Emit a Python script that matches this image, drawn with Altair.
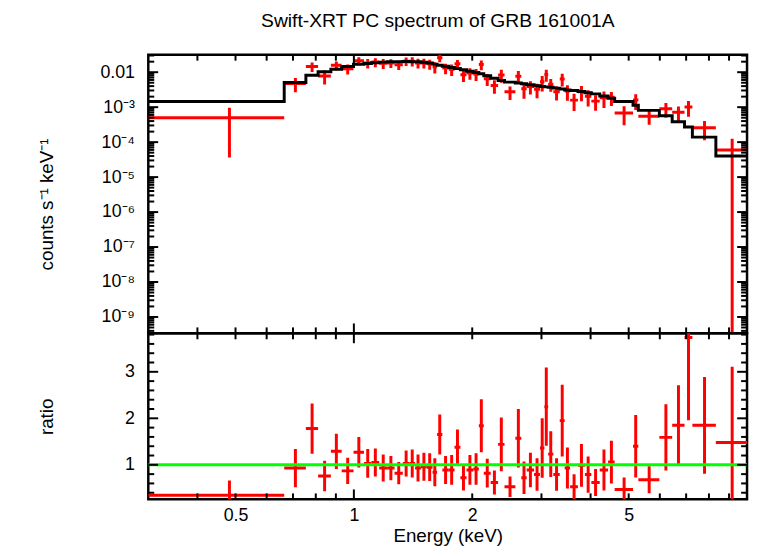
import altair as alt
import pandas as pd

# ---- data ----
# bin edges (keV)
edges = [0.30, 0.665, 0.755, 0.811, 0.874, 0.931, 0.998, 1.061, 1.108, 1.160,
         1.215, 1.269, 1.332, 1.384, 1.431, 1.481, 1.533, 1.585, 1.628, 1.679,
         1.743, 1.803, 1.866, 1.934, 2.012, 2.079, 2.140, 2.228, 2.327, 2.416,
         2.575, 2.666, 2.751, 2.873, 2.974, 3.052, 3.120, 3.216, 3.339, 3.437,
         3.548, 3.715, 3.869, 4.018, 4.220, 4.432, 4.606, 5.129, 5.291, 5.984,
         6.451, 6.934, 7.261, 8.331, 10.0]

# folded model per bin (counts s^-1 keV^-1)
model = [1.45e-3, 5.1e-3, 8.2e-3, 0.0103, 0.0122, 0.0145, 0.0168, 0.0178, 0.0186, 0.0194,
         0.0198, 0.0200, 0.0201, 0.0200, 0.0198, 0.0192, 0.0182, 0.0170, 0.0158, 0.0147,
         0.0137, 0.0127, 0.0117, 0.0107, 0.0098, 0.0090, 0.0079, 0.0067, 0.0058, 0.0052,
         0.0049, 0.0047, 0.0044, 0.0041, 0.0039, 0.0038, 0.0037, 0.0035, 0.0033, 0.0031,
         0.0030, 0.0028, 0.0026, 0.0024, 0.0021, 0.0018, 0.00145, 0.00114, 0.00081, 0.00057,
         0.000385, 0.000272, 0.000139, 0.000040]

# data / model ratio per bin
ratio = [0.345, 0.93, 1.78, 0.76, 1.29, 0.87, 1.27, 1.03, 1.05, 0.93,
         0.93, 0.82, 1.03, 1.03, 0.93, 0.96, 0.95, 0.84, 1.65, 0.89,
         0.89, 1.38, 0.72, 0.89, 0.91, 1.84, 0.82, 0.62, 1.44, 0.53,
         1.57, 0.72, 0.89, 0.79, 1.36, 2.25, 1.23, 0.79, 1.95, 0.93,
         0.53, 0.99, 0.79, 0.62, 0.89, 1.06, 0.47, 1.40, 0.68, 1.59,
         1.85, 3.74, 1.85, 1.48]

ratio_err = [0.32, 0.41, 0.54, 0.33, 0.38, 0.28, 0.33, 0.31, 0.30, 0.29,
             0.26, 0.24, 0.28, 0.30, 0.29, 0.30, 0.30, 0.30, 0.43, 0.30,
             0.32, 0.38, 0.27, 0.32, 0.34, 0.57, 0.31, 0.26, 0.58, 0.22,
             0.63, 0.35, 0.37, 0.35, 0.64, 0.84, 0.49, 0.35, 0.77, 0.44,
             0.27, 0.46, 0.39, 0.29, 0.44, 0.46, 0.26, 0.67, 0.29, 0.71,
             0.86, 1.78, 1.04, 1.63]

x_major_labels = [0.5, 1, 2, 5]
x_major_ticks = [1]
x_minor_ticks = [0.4, 0.5, 0.6, 0.7, 0.8, 0.9, 2, 3, 4, 5, 6, 7, 8, 9]
y_top_labels = {-2: "0.01", -3: "10⁻³", -4: "10⁻⁴", -5: "10⁻⁵",
                -6: "10⁻⁶", -7: "10⁻⁷", -8: "10⁻⁸", -9: "10⁻⁹"}
y_bot_major = [1, 2, 3]
y_bot_minor = [0.4, 0.6, 0.8, 1.2, 1.4, 1.6, 1.8, 2.2, 2.4, 2.6, 2.8, 3.2, 3.4, 3.6, 3.8]

title_text = "Swift-XRT PC spectrum of GRB 161001A"
y_top_title = "counts s⁻¹ keV⁻¹"
y_bot_title = "ratio"
x_title = "Energy (keV)"

# ---- tables ----
FLOOR = 1e-13
rows = []
for i in range(len(model)):
    lo, hi = edges[i], edges[i + 1]
    m, r, e = model[i], ratio[i], ratio_err[i]
    rows.append(dict(lo=lo, hi=hi, mid=(lo + hi) / 2, r=r, rlo=r - e, rhi=r + e,
                     c=r * m, clo=max((r - e) * m, FLOOR), chi=(r + e) * m))
bins = pd.DataFrame(rows)
step = pd.DataFrame({"E": edges, "M": model + [model[-1]]})

W, HT, HB = 606, 282, 168
XDOM = [0.3, 10.0]
YTDOM = [3.4e-10, 0.0316]
YBDOM = [0.258, 3.827]
FONT = "Liberation Sans"

xs = alt.Scale(type="log", domain=XDOM, nice=False)
yts = alt.Scale(type="log", domain=YTDOM, nice=False)
ybs = alt.Scale(type="linear", domain=YBDOM, nice=False, zero=False)

RED = "#ff0000"
TW = 2

# top-panel y tick values
top_major = [10.0 ** n for n in range(-9, -1)]
top_minor = [k * 10.0 ** n for n in range(-10, -1) for k in range(2, 10)
             if YTDOM[0] < k * 10.0 ** n < YTDOM[1]]

rexpr = "round(log(datum.value)/LN10)"
lab = "''"
for k in sorted(y_top_labels):
    lab = f"{rexpr} == {k} ? '{y_top_labels[k]}' : " + lab

# axes (the same object on every layer of a panel so they merge)
ax_top_y = alt.Axis(values=top_major, labelExpr=lab, title=y_top_title,
                    titleX=-103, titleY=151, titleBaseline="middle",
                    labelPadding=14, ticks=False, domain=False, grid=False)
ax_bot_x = alt.Axis(values=x_major_labels, format="~g", title=x_title,
                    labelPadding=7, labelFontSize=18,
                    titleY=43, titleBaseline="alphabetic", titleFontSize=19,
                    ticks=False, domain=False, grid=False)
ax_bot_y = alt.Axis(values=y_bot_major, format="d", title=y_bot_title,
                    titleX=-103, titleBaseline="middle", labelPadding=14,
                    ticks=False, domain=False, grid=False)


def xtick_layers(vals, length, H, axis):
    df = pd.DataFrame({"t": vals})
    base = alt.Chart(df).mark_rule(color="black", strokeWidth=TW)
    bot = base.encode(x=alt.X("t:Q", scale=xs, axis=axis), y=alt.value(H), y2=alt.value(H - length))
    top = base.encode(x=alt.X("t:Q", scale=xs, axis=axis), y=alt.value(0), y2=alt.value(length))
    return [bot, top]


def ytick_layers(vals, length, scale, axis):
    df = pd.DataFrame({"t": vals})
    base = alt.Chart(df).mark_rule(color="black", strokeWidth=TW)
    left = base.encode(y=alt.Y("t:Q", scale=scale, axis=axis), x=alt.value(0), x2=alt.value(length))
    right = base.encode(y=alt.Y("t:Q", scale=scale, axis=axis), x=alt.value(W), x2=alt.value(W - length))
    return [left, right]


# ---- top panel ----
top_h = alt.Chart(bins).mark_rule(color=RED, strokeWidth=3, clip=True).encode(
    x=alt.X("lo:Q", scale=xs, axis=None), x2="hi:Q",
    y=alt.Y("c:Q", scale=yts, axis=ax_top_y))
top_v = alt.Chart(bins).mark_rule(color=RED, strokeWidth=3, clip=True).encode(
    x=alt.X("mid:Q", scale=xs, axis=None),
    y=alt.Y("clo:Q", scale=yts, axis=ax_top_y), y2="chi:Q")
top_model = alt.Chart(step).mark_line(interpolate="step-after", color="black",
                                      strokeWidth=3, clip=True).encode(
    x=alt.X("E:Q", scale=xs, axis=None),
    y=alt.Y("M:Q", scale=yts, axis=ax_top_y))

top = alt.layer(top_h, top_v, top_model,
                *xtick_layers(x_major_ticks, 10, HT, None),
                *xtick_layers(x_minor_ticks, 6, HT, None),
                *ytick_layers(top_major, 10, yts, ax_top_y),
                *ytick_layers(top_minor, 6, yts, ax_top_y)
                ).properties(width=W, height=HT)

# ---- bottom panel ----
one = pd.DataFrame({"one": [1.0]})
bot_h = alt.Chart(bins).mark_rule(color=RED, strokeWidth=3, clip=True).encode(
    x=alt.X("lo:Q", scale=xs, axis=ax_bot_x), x2="hi:Q",
    y=alt.Y("r:Q", scale=ybs, axis=ax_bot_y))
bot_v = alt.Chart(bins).mark_rule(color=RED, strokeWidth=3, clip=True).encode(
    x=alt.X("mid:Q", scale=xs, axis=ax_bot_x),
    y=alt.Y("rlo:Q", scale=ybs, axis=ax_bot_y), y2="rhi:Q")
bot_one = alt.Chart(one).mark_rule(color="#00ff00", strokeWidth=3).encode(
    y=alt.Y("one:Q", scale=ybs, axis=ax_bot_y))

bottom = alt.layer(bot_h, bot_v, bot_one,
                   *xtick_layers(x_major_ticks, 10, HB, ax_bot_x),
                   *xtick_layers(x_minor_ticks, 6, HB, ax_bot_x),
                   *ytick_layers(y_bot_major, 10, ybs, ax_bot_y),
                   *ytick_layers(y_bot_minor, 6, ybs, ax_bot_y)
                   ).properties(width=W, height=HB)

chart = alt.vconcat(top, bottom, spacing=0, bounds="flush").properties(
    title=alt.TitleParams(title_text, font=FONT, fontSize=19.5, fontWeight="normal",
                          color="black", anchor="middle", frame="group", dx=-10,
                          offset=6, baseline="alphabetic"),
    padding={"left": 28, "top": 0, "right": 0, "bottom": 0},
    background="white",
).configure_view(stroke="black", strokeWidth=2.5).configure_axis(
    labelFont=FONT, labelFontSize=18, labelColor="black",
    titleFont=FONT, titleFontSize=19, titleFontWeight="normal", titleColor="black",
    ticks=False, domain=False, grid=False,
)

chart.save("out.html", embed_options={"renderer": "svg", "actions": False})
